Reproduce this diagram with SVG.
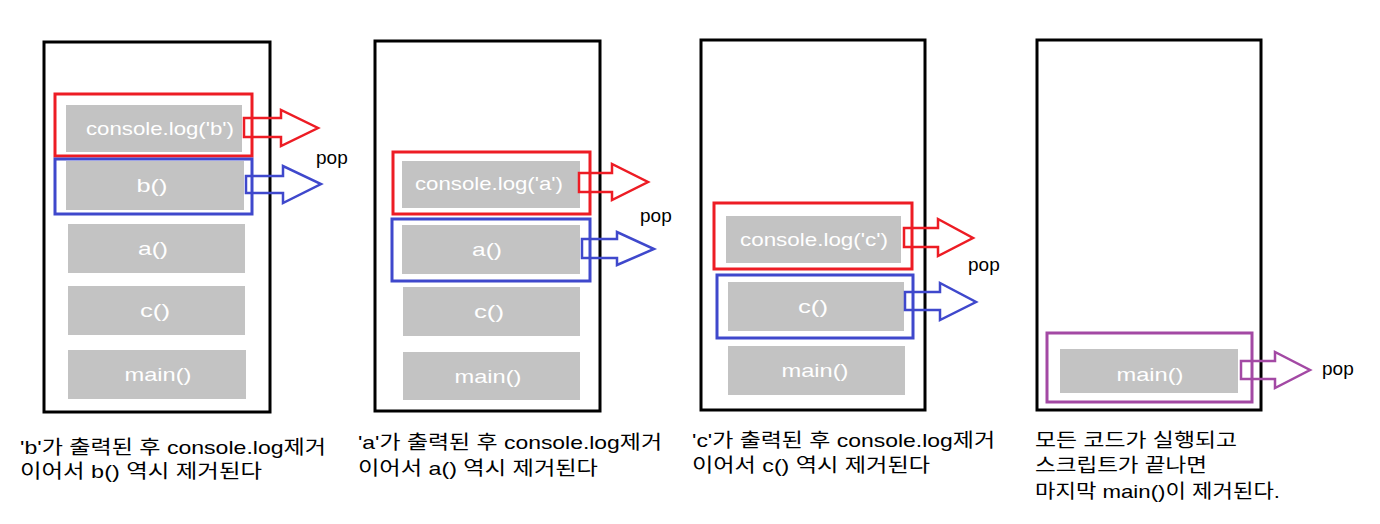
<svg xmlns="http://www.w3.org/2000/svg" width="1380" height="524" viewBox="0 0 1380 524">
<style>
.stack{fill:#fff;stroke:#000;stroke-width:3}
.cell{fill:#c3c3c3}
.ct{fill:#fff;font-family:"Liberation Sans","Noto Sans CJK KR",sans-serif;font-size:19px;text-anchor:middle}
.red{fill:none;stroke:#ed1c24;stroke-width:3}
.blue{fill:none;stroke:#3f48cc;stroke-width:3}
.purple{fill:none;stroke:#a349a4;stroke-width:3}
.arr-r{fill:none;stroke:#ed1c24;stroke-width:2.5}
.arr-b{fill:none;stroke:#3f48cc;stroke-width:2.5}
.arr-p{fill:none;stroke:#a349a4;stroke-width:2.5}
.pop{fill:#000;font-family:"Liberation Sans","Noto Sans CJK KR",sans-serif;font-size:19px}
.cap{fill:#000;font-family:"Liberation Sans","Noto Sans CJK KR",sans-serif;font-size:19px}
</style>
<rect width="1380" height="524" fill="#fff"/>

<g id="panel1">
<rect class="stack" x="44" y="42" width="226" height="370"/>
<rect class="cell" x="66" y="105" width="176" height="47"/>
<text class="ct" x="160" y="135" textLength="148" lengthAdjust="spacingAndGlyphs">console.log('b')</text>
<rect class="cell" x="66" y="161" width="178" height="49"/>
<text class="ct" x="152" y="192" textLength="31" lengthAdjust="spacingAndGlyphs">b()</text>
<rect class="cell" x="68" y="224" width="177" height="49"/>
<text class="ct" x="153" y="255" textLength="30" lengthAdjust="spacingAndGlyphs">a()</text>
<rect class="cell" x="68" y="286" width="177" height="49"/>
<text class="ct" x="155" y="317" textLength="30" lengthAdjust="spacingAndGlyphs">c()</text>
<rect class="cell" x="68" y="350" width="178" height="49"/>
<text class="ct" x="158" y="381" textLength="67" lengthAdjust="spacingAndGlyphs">main()</text>
<rect class="red" x="55" y="94" width="197" height="62"/>
<rect class="blue" x="55" y="159" width="197" height="55"/>
<text class="cap" x="20" y="454" textLength="306" lengthAdjust="spacingAndGlyphs">'b'가 출력된 후 console.log제거</text>
<text class="cap" x="20" y="478" textLength="242" lengthAdjust="spacingAndGlyphs">이어서 b() 역시 제거된다</text>
</g>

<g id="panel2">
<rect class="stack" x="375" y="41" width="225" height="370"/>
<rect class="cell" x="402" y="161" width="178" height="47"/>
<text class="ct" x="489" y="190" textLength="148" lengthAdjust="spacingAndGlyphs">console.log('a')</text>
<rect class="cell" x="402" y="225" width="178" height="49"/>
<text class="ct" x="487" y="256" textLength="30" lengthAdjust="spacingAndGlyphs">a()</text>
<rect class="cell" x="403" y="287" width="177" height="49"/>
<text class="ct" x="489" y="318" textLength="30" lengthAdjust="spacingAndGlyphs">c()</text>
<rect class="cell" x="403" y="352" width="177" height="48"/>
<text class="ct" x="488" y="383" textLength="67" lengthAdjust="spacingAndGlyphs">main()</text>
<rect class="red" x="393" y="152" width="197" height="62"/>
<rect class="blue" x="392" y="219" width="198" height="62"/>
<text class="cap" x="358" y="449" textLength="304" lengthAdjust="spacingAndGlyphs">'a'가 출력된 후 console.log제거</text>
<text class="cap" x="358" y="475" textLength="240" lengthAdjust="spacingAndGlyphs">이어서 a() 역시 제거된다</text>
</g>

<g id="panel3">
<rect class="stack" x="701" y="40" width="224" height="370"/>
<rect class="cell" x="726" y="216" width="175" height="47"/>
<text class="ct" x="814" y="246" textLength="148" lengthAdjust="spacingAndGlyphs">console.log('c')</text>
<rect class="cell" x="728" y="282" width="176" height="49"/>
<text class="ct" x="813" y="313" textLength="30" lengthAdjust="spacingAndGlyphs">c()</text>
<rect class="cell" x="728" y="346" width="177" height="49"/>
<text class="ct" x="815" y="377" textLength="67" lengthAdjust="spacingAndGlyphs">main()</text>
<rect class="red" x="714" y="203" width="198" height="66"/>
<rect class="blue" x="717" y="275" width="196" height="63"/>
<text class="cap" x="692" y="447" textLength="303" lengthAdjust="spacingAndGlyphs">'c'가 출력된 후 console.log제거</text>
<text class="cap" x="692" y="472" textLength="238" lengthAdjust="spacingAndGlyphs">이어서 c() 역시 제거된다</text>
</g>

<g id="panel4">
<rect class="stack" x="1037" y="40" width="224" height="370"/>
<rect class="cell" x="1060" y="349" width="178" height="44"/>
<text class="ct" x="1150" y="381" textLength="67" lengthAdjust="spacingAndGlyphs">main()</text>
<rect class="purple" x="1047" y="333" width="205" height="69"/>
<text class="cap" x="1035" y="447" textLength="202" lengthAdjust="spacingAndGlyphs">모든 코드가 실행되고</text>
<text class="cap" x="1035" y="472" textLength="172" lengthAdjust="spacingAndGlyphs">스크립트가 끝나면</text>
<text class="cap" x="1035" y="498" textLength="245" lengthAdjust="spacingAndGlyphs">마지막 main()이 제거된다.</text>
</g>

<g id="connectors">
<polygon class="arr-r" points="244,118 281,118 281,110 318,128 281,146 281,137 244,137"/>
<polygon class="arr-b" points="246,176 283,176 283,166 321,184 283,203 283,193 246,193"/>
<polygon class="arr-r" points="579,173 612,173 612,164 648,182 612,200 612,192 579,192"/>
<polygon class="arr-b" points="582,239 617,239 617,232 654,249 617,265 617,258 582,258"/>
<polygon class="arr-r" points="904,228 938,228 938,219 973,238 938,256 938,247 904,247"/>
<polygon class="arr-b" points="905,292 940,292 940,283 976,302 940,320 940,310 905,310"/>
<polygon class="arr-p" points="1241,361 1275,361 1275,352 1310,370 1275,388 1275,379 1241,379"/>
</g>

<g id="labels">
<text class="pop" x="316" y="164">pop</text>
<text class="pop" x="640" y="222">pop</text>
<text class="pop" x="968" y="271">pop</text>
<text class="pop" x="1322" y="375">pop</text>
</g>
</svg>
